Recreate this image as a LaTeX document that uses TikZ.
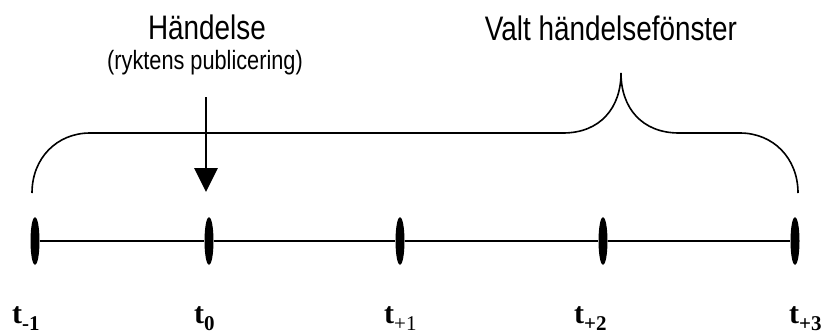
\documentclass[tikz,border=0pt]{standalone}
\usepackage{fontspec}
\usepackage{tikz}
\usetikzlibrary{arrows.meta,shapes.geometric}
\newfontfamily\narrowsans{Liberation Sans}[FakeStretch=0.82]
\newfontfamily\timesserif{Liberation Serif}
\newcommand{\tsub}[1]{\raisebox{-7pt}{\fontsize{21}{21}\selectfont #1}}

\begin{document}
\begin{tikzpicture}[x=1pt, y=-1pt,
    tick/.style={ellipse, fill=black, minimum width=9pt, minimum height=48pt, inner sep=0pt},
    tlabel/.style={anchor=base west, inner sep=0pt, font=\timesserif\fontsize{30}{30}\selectfont},
    caption/.style={font=\narrowsans\fontsize{34}{34}\selectfont, inner sep=0pt}]
    \useasboundingbox (0,0) rectangle (821,333);

    % Time axis
    \foreach \n/\x in {tm1/35, t0/209, tp1/400, tp2/603, tp3/795} {
        \node[tick] (\n) at (\x,241) {};
    }
    \draw[line width=1.8pt] (tm1) -- (t0) -- (tp1) -- (tp2) -- (tp3);

    \node[tlabel] (lm1) at (12,323) {\textbf{t\tsub{-1}}};
    \node[tlabel] (l0) at (194,323) {\textbf{t\tsub{0}}};
    \node[tlabel] (lp1) at (384,323) {\textbf{t}\tsub{+1}};
    \node[tlabel] (lp2) at (574,323) {\textbf{t\tsub{+2}}};
    \node[tlabel] (lp3) at (789,323) {\textbf{t\tsub{+3}}};

    % Event
    \node[caption] (event) at (207,27) {Händelse};
    \node[caption, font=\narrowsans\fontsize{26.5}{26.5}\selectfont] (rumour) at (205,63) {(ryktens publicering)};
    \coordinate (evtop) at (206,97);
    \coordinate (evtip) at (206,192);
    \draw[line width=2.8pt, -{Triangle[width=23pt,length=24pt]}] (evtop) -- (evtip);

    % Event window brace
    \draw[line width=1.6pt] (32,193) .. controls (32,158) and (57,133) .. (90,133) -- (563,133)
        .. controls (600,133) and (621,108) .. (621,73)
        .. controls (621,108) and (642,133) .. (679,133) -- (740,133)
        .. controls (773,133) and (798,158) .. (798,193);
    \node[caption] (window) at (611,28) {Valt händelsefönster};
\end{tikzpicture}
\end{document}
